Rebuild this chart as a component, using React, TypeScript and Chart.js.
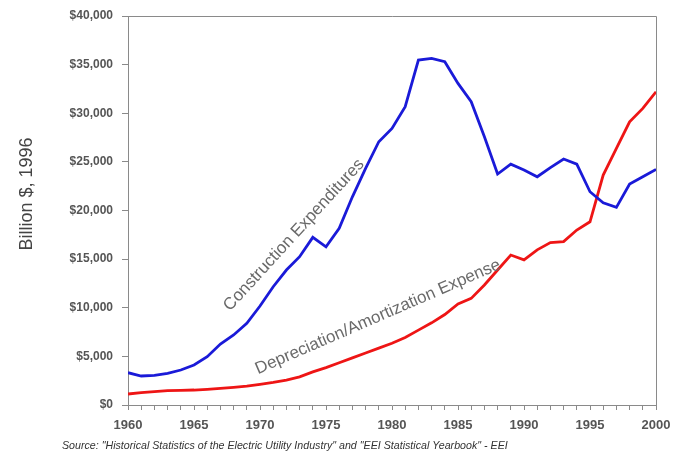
import React, { useEffect, useRef } from "react";
import { Chart, registerables } from "chart.js";

Chart.register(...registerables);

const years: number[] = [
  1960, 1961, 1962, 1963, 1964, 1965, 1966, 1967, 1968, 1969,
  1970, 1971, 1972, 1973, 1974, 1975, 1976, 1977, 1978, 1979,
  1980, 1981, 1982, 1983, 1984, 1985, 1986, 1987, 1988, 1989,
  1990, 1991, 1992, 1993, 1994, 1995, 1996, 1997, 1998, 1999, 2000,
];

const construction: number[] = [
  3320, 2980, 3050, 3260, 3600, 4110, 4970, 6270, 7200, 8400,
  10180, 12160, 13880, 15250, 17240, 16270, 18160, 21410, 24330, 27070,
  28440, 30670, 35470, 35640, 35300, 33070, 31180, 27580, 23750, 24770,
  24160, 23470, 24400, 25290, 24770, 21930, 20800, 20320, 22720, 23470, 24230,
];

const depreciation: number[] = [
  1130, 1270, 1370, 1470, 1510, 1540, 1610, 1710, 1820, 1950,
  2130, 2330, 2570, 2900, 3400, 3850, 4350, 4850, 5350, 5850,
  6350, 6950, 7700, 8450, 9300, 10400, 10960, 12340, 13880, 15420,
  14930, 15950, 16700, 16800, 17990, 18840, 23640, 26390, 29120, 30500, 32210,
];

const yTitle = "Billion $, 1996";
const constructionLabel = "Construction Expenditures";
const depreciationLabel = "Depreciation/Amortization Expense";
const sourceText =
  'Source: "Historical Statistics of the Electric Utility Industry" and "EEI Statistical Yearbook" - EEI';

const FONT = "Arial, 'Liberation Sans', sans-serif";

const decorPlugin = {
  id: "decor",
  afterDraw(chart: any) {
    const ctx = chart.ctx as CanvasRenderingContext2D;
    const a = chart.chartArea;
    ctx.save();
    // plot-area frame (top and right edges)
    ctx.strokeStyle = "#8a8a8a";
    ctx.lineWidth = 1;
    ctx.beginPath();
    ctx.moveTo(a.left, a.top + 0.5);
    ctx.lineTo(a.right + 0.5, a.top + 0.5);
    ctx.lineTo(a.right + 0.5, a.bottom);
    ctx.stroke();

    // y-axis title
    ctx.fillStyle = "#444";
    ctx.font = `18px ${FONT}`;
    ctx.textAlign = "center";
    ctx.textBaseline = "middle";
    ctx.save();
    ctx.translate(27, 194);
    ctx.rotate(-Math.PI / 2);
    ctx.fillText(yTitle, 0, 0);
    ctx.restore();

    // line annotations
    ctx.fillStyle = "#6a6a6a";
    ctx.font = `17px ${FONT}`;
    ctx.save();
    ctx.translate(294, 235);
    ctx.rotate((-47.5 * Math.PI) / 180);
    ctx.fillText(constructionLabel, 0, 0);
    ctx.restore();

    ctx.save();
    ctx.translate(378, 317);
    ctx.rotate((-23.5 * Math.PI) / 180);
    ctx.fillText(depreciationLabel, 0, 0);
    ctx.restore();

    // source note
    ctx.fillStyle = "#333";
    ctx.font = `italic 9px ${FONT}`;
    const w = ctx.measureText(sourceText).width;
    const size = (9 * 446) / w;
    ctx.font = `italic ${size.toFixed(2)}px ${FONT}`;
    ctx.textAlign = "left";
    ctx.fillText(sourceText, 62, 446);
    ctx.restore();
  },
};

export default function App() {
  const ref = useRef<HTMLCanvasElement | null>(null);

  useEffect(() => {
    if (!ref.current) return;
    const chart = new Chart(ref.current, {
      type: "line",
      data: {
        datasets: [
          {
            label: constructionLabel,
            data: years.map((yr, i) => ({ x: yr, y: construction[i] })),
            borderColor: "#1a1ad8",
            borderWidth: 2.8,
            pointRadius: 0,
            tension: 0,
          },
          {
            label: depreciationLabel,
            data: years.map((yr, i) => ({ x: yr, y: depreciation[i] })),
            borderColor: "#ee1515",
            borderWidth: 2.8,
            pointRadius: 0,
            tension: 0,
          },
        ],
      },
      options: {
        responsive: false,
        animation: false,
        devicePixelRatio: 1,
        layout: { padding: { top: 16, right: 17, left: 0, bottom: 0 } },
        plugins: { legend: { display: false }, tooltip: { enabled: false } },
        scales: {
          x: {
            type: "linear",
            min: 1960,
            max: 2000,
            afterFit: (s: any) => {
              s.height = 50;
              s.paddingLeft = 0;
              s.paddingRight = 0;
            },
            ticks: {
              stepSize: 1,
              autoSkip: false,
              maxRotation: 0,
              padding: 8,
              color: "#555",
              font: { family: FONT, size: 13, weight: "bold" },
              callback: (v: any) => (Number(v) % 5 === 0 ? String(v) : ""),
            },
            grid: {
              drawOnChartArea: false,
              drawTicks: true,
              tickLength: 5,
              tickColor: "#8a8a8a",
            },
            border: { color: "#8a8a8a", width: 1 },
          },
          y: {
            min: 0,
            max: 40000,
            afterFit: (s: any) => {
              s.width = 128;
              s.paddingTop = 0;
              s.paddingBottom = 0;
            },
            ticks: {
              stepSize: 5000,
              padding: 9,
              color: "#555",
              font: { family: FONT, size: 12, weight: "bold" },
              callback: (v: any) => "$" + Number(v).toLocaleString("en-US"),
            },
            grid: {
              drawOnChartArea: false,
              drawTicks: true,
              tickLength: 6,
              tickColor: "#8a8a8a",
            },
            border: { color: "#8a8a8a", width: 1 },
          },
        },
      },
      plugins: [decorPlugin],
    });
    return () => chart.destroy();
  }, []);

  return (
    <div style={{ position: "fixed", left: 0, top: 0, width: 673, height: 455, background: "#fff" }}>
      <canvas ref={ref} width={673} height={455} style={{ display: "block" }} />
    </div>
  );
}
